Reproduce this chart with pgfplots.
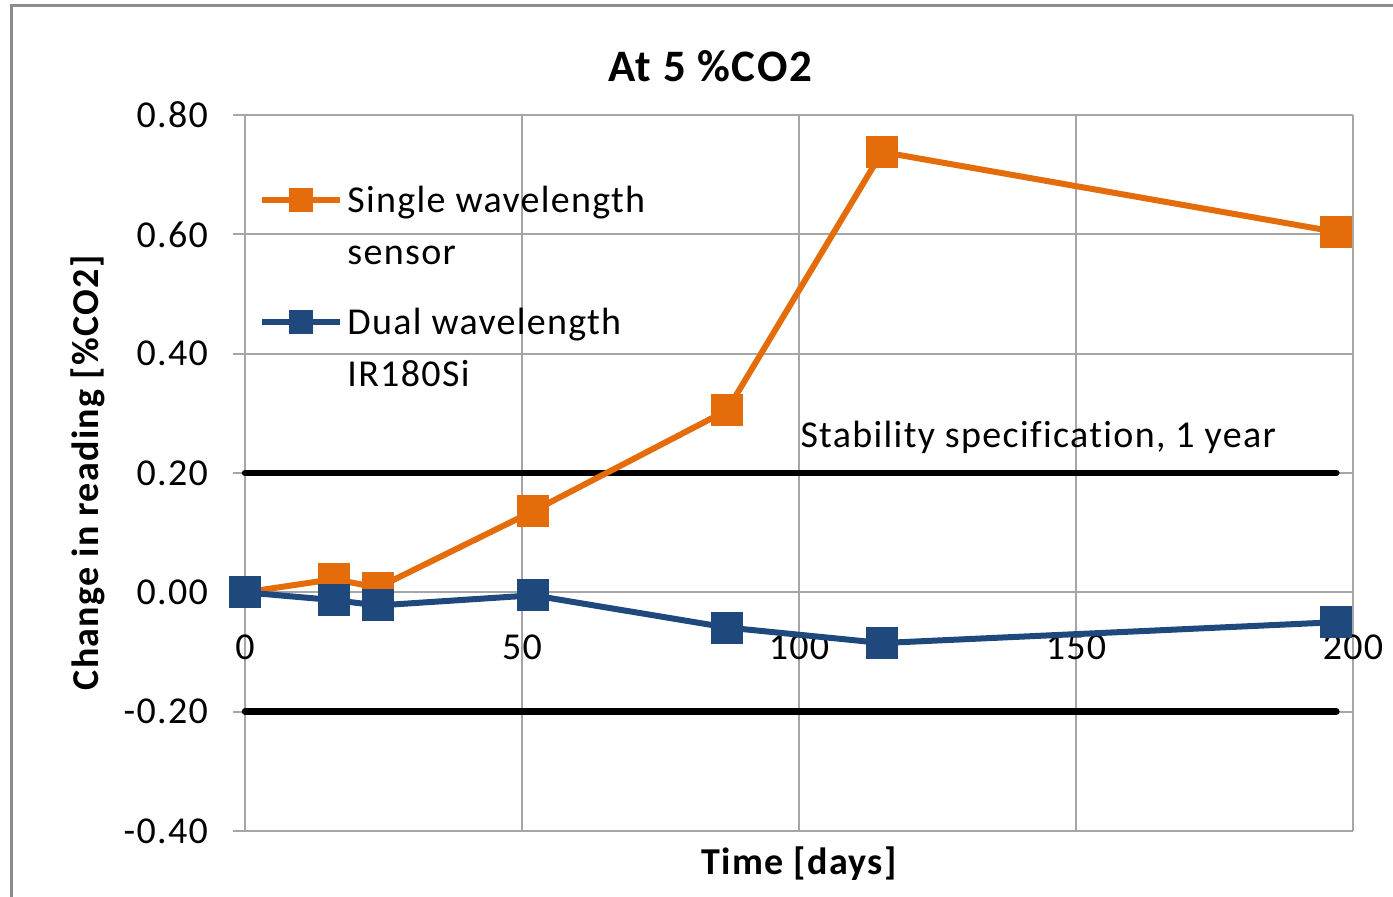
\documentclass[border=0pt]{standalone}
\usepackage{fontspec}
\setmainfont{Carlito}[LetterSpace=3.5, Ligatures=NoCommon]
\usepackage{pgfplots}
\pgfplotsset{compat=1.18}
\usetikzlibrary{calc}
\definecolor{sorange}{HTML}{E46C0A}
\definecolor{dblue}{HTML}{1F497D}
\definecolor{gridgray}{HTML}{A6A6A6}
\definecolor{framegray}{HTML}{8C8C8C}
\newcommand{\lblfont}{\fontsize{19}{23}\selectfont}
\begin{document}
\begin{tikzpicture}[x=1pt,y=1pt]
\useasboundingbox (0,0) rectangle (696.5,448.5);
\draw[framegray, line width=1.5pt] (5.5,-20) rectangle (720,445.5);
\node[anchor=base, inner sep=0pt, font=\fontsize{22.5}{27}\selectfont\bfseries] at (355,407.5) {At 5 \%CO2};
\begin{axis}[
    at={(122.5pt,33pt)}, anchor=south west,
    scale only axis, width=554pt, height=358pt,
    xmin=0, xmax=200, ymin=-0.4, ymax=0.8,
    xtick={0,50,100,150,200},
    ytick={-0.4,-0.2,0,0.2,0.4,0.6,0.8},
    axis x line=middle, axis y line=left,
    axis line style={gridgray, line width=1pt, -},
    hide obscured x ticks=false, hide obscured y ticks=false,
    grid=major, grid style={gridgray, line width=1pt},
    tick align=outside, major tick length=6pt,
    x tick style={draw=none},
    y tick style={gridgray, line width=1pt},
    tick label style={font=\lblfont},
    /pgf/number format/assume math mode=true,
    yticklabel style={/pgf/number format/.cd, fixed, fixed zerofill, precision=2, /tikz/.cd, xshift=-9pt},
    xticklabel style={anchor=center, yshift=-21.5pt},
    xlabel={Time [days]}, ylabel={Change in reading [\%CO2]},
    label style={font=\lblfont\bfseries},
    xlabel style={at={(axis description cs:0.5,0)}, anchor=base, yshift=-22pt},
    ylabel style={at={($(axis description cs:0,0.5)+(-78.5pt,0)$)}, anchor=center},
    clip=false,
    legend image code/.code={\draw[mark repeat=2, mark phase=2, #1, line width=3pt, mark size=5.5pt] plot coordinates {(0pt,6.5pt)(19.5pt,6.5pt)(39pt,6.5pt)};},
    legend style={draw=none, fill=none, at={(axis description cs:0,1)}, anchor=north west,
        xshift=7pt, yshift=-30.5pt, inner sep=0pt, row sep=39.5pt,
        cells={anchor=base west}, nodes={inner sep=2pt, font=\lblfont}},
]
\addplot[black, line width=3.25pt, line cap=round, forget plot] coordinates {(0,0.2)(197,0.2)};
\addplot[black, line width=3.25pt, line cap=round, forget plot] coordinates {(0,-0.2)(197,-0.2)};
\addplot[sorange, line width=3pt, mark=square*, mark size=7.5pt, mark options={solid, line width=1pt}]
    coordinates {(0,0)(16,0.022)(24,0.008)(52,0.136)(87,0.305)(115,0.738)(197,0.604)};
\addlegendentry{\begin{tabular}[t]{@{}l@{}}Single wavelength\\[3pt]sensor\end{tabular}}
\addplot[dblue, line width=3pt, mark=square*, mark size=7.5pt, mark options={solid, line width=1pt}]
    coordinates {(0,0)(16,-0.013)(24,-0.022)(52,-0.005)(87,-0.059)(115,-0.085)(197,-0.050)};
\addlegendentry{\begin{tabular}[t]{@{}l@{}}Dual wavelength\\[3pt]IR180Si\end{tabular}}
\node[anchor=base west, inner sep=0pt, font=\lblfont] at (axis cs:100.2,0.243) {Stability specification, 1 year};
\end{axis}
\end{tikzpicture}
\end{document}
